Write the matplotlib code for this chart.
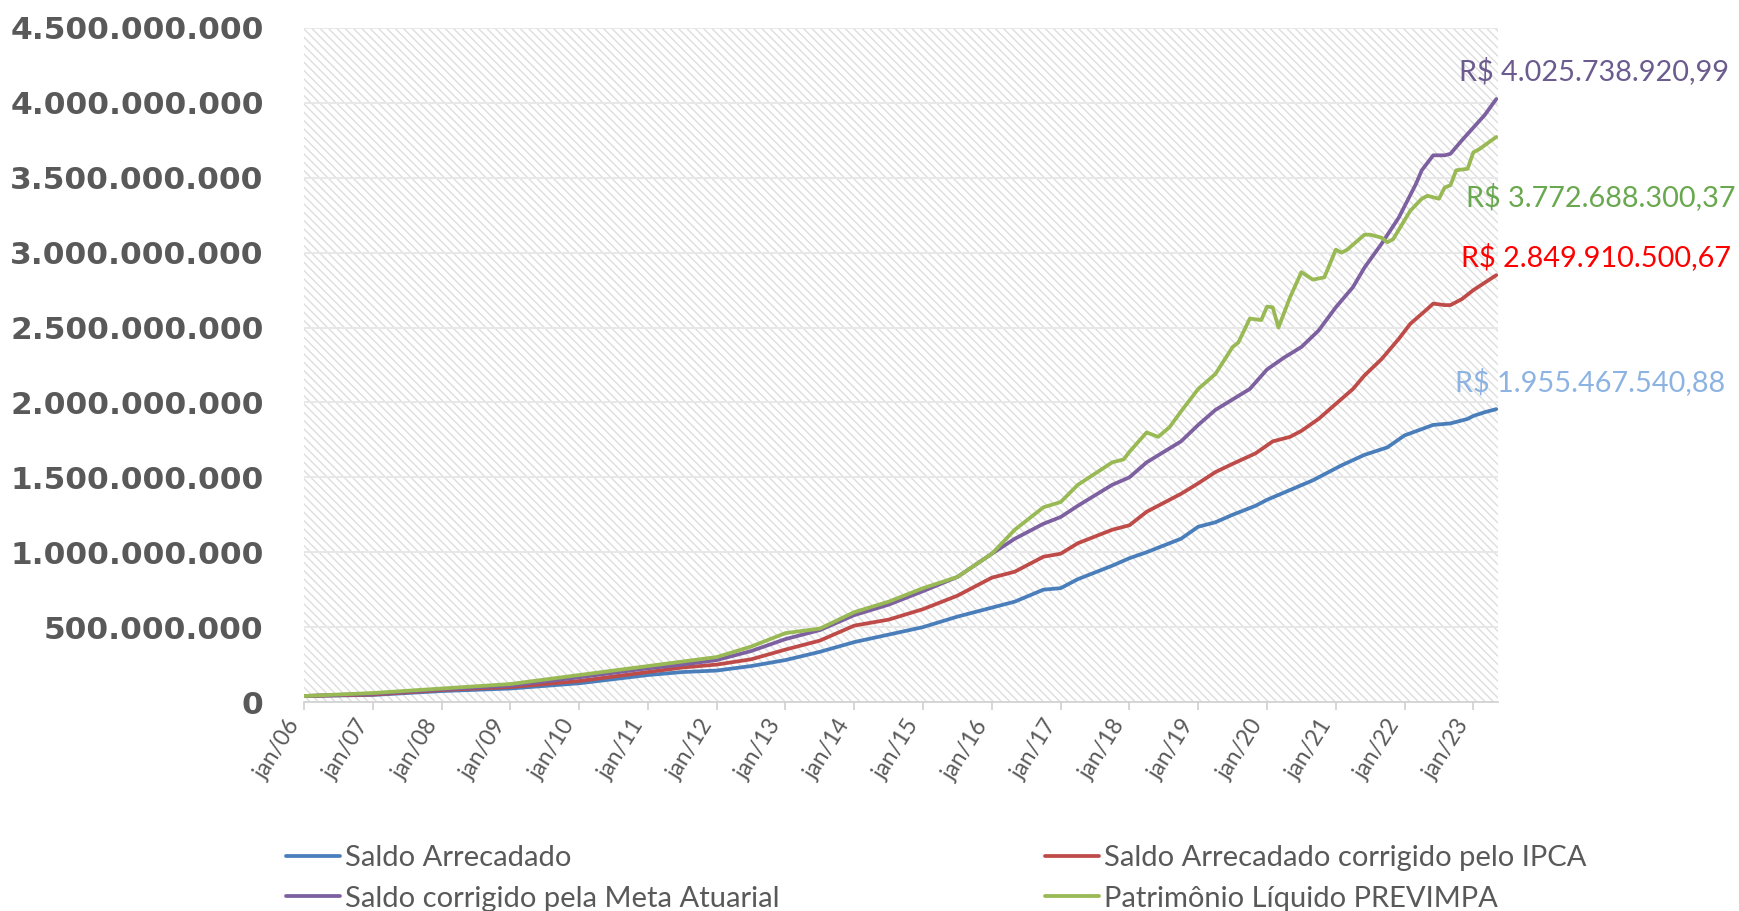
import matplotlib
matplotlib.use("Agg")
import matplotlib.pyplot as plt
from matplotlib.patches import Rectangle
from matplotlib.ticker import FuncFormatter, FixedLocator

# ---- data (month index: 0 = jan/06), values in R$ billions ----
tick_labels = ["jan/%02d" % y for y in range(6, 24)]
tick_months = [12 * i for i in range(len(tick_labels))]

blue_m = [0, 12, 24, 36, 48, 60, 66, 72, 78, 84, 90, 96, 102, 108, 114, 120, 124, 129, 132, 135,
          141, 144, 147, 153, 156, 159, 162, 166, 168, 176, 181, 185, 189, 192, 197, 200, 203, 204, 206, 208]
blue_v = [0.04, 0.047, 0.073, 0.09, 0.125, 0.18, 0.20, 0.21, 0.24, 0.28, 0.335, 0.40, 0.45, 0.50, 0.57,
          0.63, 0.67, 0.75, 0.76, 0.82, 0.91, 0.96, 1.00, 1.09, 1.17, 1.20, 1.25, 1.31, 1.35, 1.48,
          1.58, 1.65, 1.70, 1.78, 1.85, 1.86, 1.89, 1.91, 1.935, 1.9555]

red_m = [0, 12, 24, 36, 48, 60, 66, 72, 78, 84, 90, 96, 102, 108, 114, 120, 124, 129, 132, 135,
         141, 144, 147, 153, 156, 159, 162, 166, 169, 172, 174, 177, 180, 183, 185, 188, 191, 193,
         196, 197, 199, 200, 202, 204, 206, 208]
red_v = [0.04, 0.05, 0.08, 0.10, 0.14, 0.20, 0.23, 0.25, 0.285, 0.35, 0.41, 0.51, 0.55, 0.62, 0.71,
         0.83, 0.87, 0.97, 0.99, 1.06, 1.15, 1.18, 1.27, 1.39, 1.46, 1.535, 1.59, 1.66, 1.74, 1.77,
         1.81, 1.89, 1.99, 2.09, 2.18, 2.29, 2.425, 2.525, 2.625, 2.66, 2.65, 2.65, 2.69, 2.75, 2.80,
         2.8499]

purple_m = [0, 12, 24, 36, 48, 60, 66, 72, 78, 84, 90, 96, 102, 108, 114, 120, 124, 129, 132, 135,
            141, 144, 147, 153, 156, 159, 162, 165, 168, 171, 174, 177, 180, 183, 185, 188, 191, 194,
            195, 197, 199, 200, 202, 204, 206, 208]
purple_v = [0.04, 0.055, 0.085, 0.11, 0.165, 0.225, 0.25, 0.28, 0.34, 0.42, 0.48, 0.58, 0.65, 0.74,
            0.835, 0.99, 1.09, 1.19, 1.235, 1.31, 1.45, 1.50, 1.60, 1.74, 1.85, 1.95, 2.02, 2.09,
            2.22, 2.30, 2.37, 2.48, 2.635, 2.77, 2.90, 3.06, 3.235, 3.46, 3.55, 3.65, 3.65, 3.66,
            3.75, 3.835, 3.92, 4.0257]

green_m = [0, 12, 24, 36, 48, 60, 66, 72, 78, 84, 90, 96, 102, 108, 114, 120, 124, 129, 132, 135,
           141, 143, 144, 147, 149, 151, 153, 156, 159, 162, 163, 165, 167, 168, 169, 170, 172, 174,
           176, 178, 180, 181, 182, 185, 186, 188, 189, 190, 193, 195, 196, 198, 199, 200, 201, 203,
           204, 205, 208]
green_v = [0.04, 0.06, 0.09, 0.12, 0.18, 0.24, 0.27, 0.30, 0.37, 0.46, 0.49, 0.60, 0.67, 0.76, 0.835,
           0.99, 1.15, 1.30, 1.335, 1.45, 1.60, 1.62, 1.67, 1.80, 1.77, 1.835, 1.94, 2.09, 2.19, 2.37,
           2.40, 2.56, 2.55, 2.64, 2.635, 2.50, 2.70, 2.87, 2.82, 2.835, 3.02, 3.00, 3.02, 3.12, 3.12,
           3.10, 3.07, 3.09, 3.28, 3.36, 3.38, 3.36, 3.435, 3.45, 3.55, 3.56, 3.67, 3.69, 3.7727]

series_names = ["Saldo Arrecadado", "Saldo Arrecadado corrigido pelo IPCA",
                "Saldo corrigido pela Meta Atuarial", "Patrimônio Líquido PREVIMPA"]
end_labels = ["R$ 1.955.467.540,88", "R$ 2.849.910.500,67",
              "R$ 4.025.738.920,99", "R$ 3.772.688.300,37"]

# ---- styling ----
W, H = 1740, 911
line_colors = ["#4a7ebb", "#be4b48", "#7d60a0", "#98b954"]
label_colors = ["#8db3e2", "#ff0000", "#6b5b8e", "#6aa84f"]
grey = "#595959"
fam = ["Lato", "DejaVu Sans"]
plt.rcParams["hatch.linewidth"] = 1.0

fig = plt.figure(figsize=(W / 100, H / 100), dpi=100)
ax = fig.add_axes([304 / W, 1 - 702 / H, (1498 - 304) / W, (702 - 28) / H])

ax.add_patch(Rectangle((0, 0), 1, 1, transform=ax.transAxes, facecolor="white",
                       edgecolor="#dedede", linewidth=0, hatch="\\" * 4, zorder=0))

B = 1e9
data = [(blue_m, blue_v), (red_m, red_v), (purple_m, purple_v), (green_m, green_v)]
handles = []
for (m, v), c, name in zip(data, line_colors, series_names):
    h, = ax.plot(m, [x * B for x in v], color=c, lw=2.7, solid_capstyle="round",
                 solid_joinstyle="round", zorder=3, label=name)
    handles.append(h)

ax.set_xlim(0, 208.3)
ax.set_ylim(0, 4.5e9)
ax.set_yticks([i * 0.5e9 for i in range(10)])
ax.yaxis.set_major_formatter(FuncFormatter(lambda v, p: f"{int(round(v)):,}".replace(",", ".")))
ax.grid(axis="y", color="#e8e8e8", lw=1.4, zorder=1)
ax.set_axisbelow(True)

ax.xaxis.set_major_locator(FixedLocator(tick_months))
ax.set_xticklabels(tick_labels)
for s in ["left", "right", "top"]:
    ax.spines[s].set_visible(False)
ax.spines["bottom"].set_color("#d0d0d0")
ax.spines["bottom"].set_linewidth(1.2)
ax.tick_params(axis="x", direction="out", length=6, width=1.2, color="#d0d0d0",
               labelcolor=grey, pad=4)
ax.tick_params(axis="y", length=0, pad=29, labelcolor=grey)
for t in ax.get_yticklabels():
    t.set_fontfamily("DejaVu Sans")
    t.set_fontweight("bold")
    t.set_fontsize(22.5)
for t in ax.get_xticklabels():
    t.set_fontfamily(fam)
    t.set_fontsize(16.5)
    t.set_rotation(58)
    t.set_ha("right")
    t.set_va("top")

# end-value annotations
ann_pos = [(1590, 382), (1596, 257), (1594, 71), (1601, 197)]
for (x, y), txt, c in zip(ann_pos, end_labels, label_colors):
    fig.text(x / W, 1 - y / H, txt, color=c, fontsize=20.8, family=fam, ha="center", va="center")

# legend (two columns)
leg_kw = dict(frameon=False, loc="upper left", prop={"family": fam, "size": 21},
              handlelength=1.85, handletextpad=0.17, labelspacing=0.5, borderpad=0,
              borderaxespad=0, labelcolor=grey)
l1 = fig.legend([handles[0], handles[2]], [series_names[0], series_names[2]],
                bbox_to_anchor=(286 / W, 1 - 845 / H), **leg_kw)
l2 = fig.legend([handles[1], handles[3]], [series_names[1], series_names[3]],
                bbox_to_anchor=(1045 / W, 1 - 845 / H), **leg_kw)

fig.savefig("out.png", dpi=100, facecolor="white")
